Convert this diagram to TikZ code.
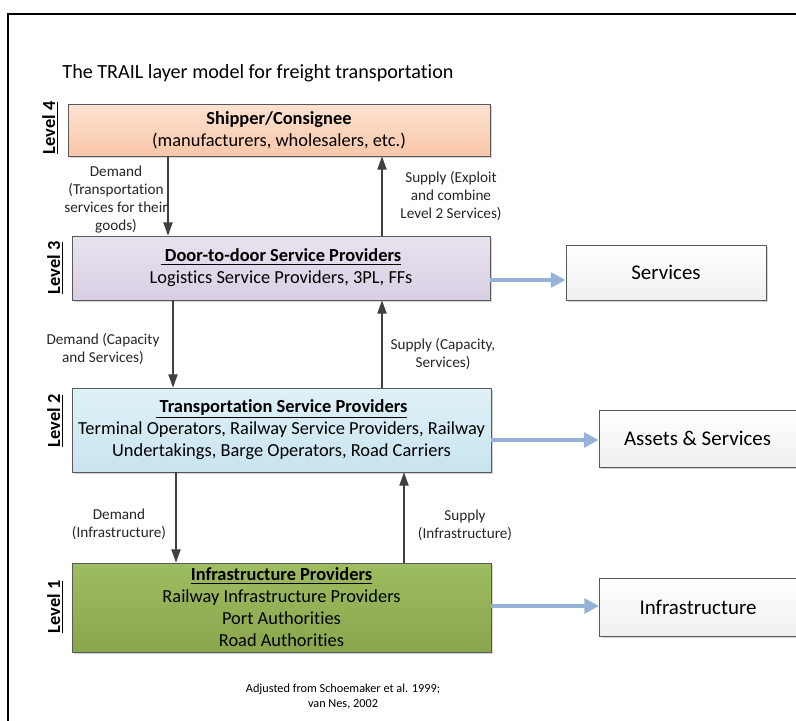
\documentclass[tikz,border=0pt]{standalone}
\usepackage{fontspec}
\setmainfont{Carlito}[Ligatures=NoCommon]
\usetikzlibrary{arrows.meta,shadows}
\definecolor{peachtop}{HTML}{FCE2D2}
\definecolor{peachbot}{HTML}{F9C7A8}
\definecolor{lilactop}{HTML}{E8E2EE}
\definecolor{lilacbot}{HTML}{D9CFE3}
\definecolor{icetop}{HTML}{E0F1F7}
\definecolor{icebot}{HTML}{C8E4EF}
\definecolor{olivetop}{HTML}{9EBC60}
\definecolor{olivebot}{HTML}{8AA64D}
\definecolor{boxgray}{HTML}{595959}
\definecolor{arrgray}{HTML}{404040}
\definecolor{feedblue}{HTML}{95B3D7}

\begin{document}
\begin{tikzpicture}[x=0.75pt,y=-0.75pt,
  layer/.style={draw=boxgray, line width=0.6pt, align=center, inner sep=0pt,
    font=\fontsize{13.8}{16.5}\selectfont,
    drop shadow={shadow xshift=1.5pt,shadow yshift=-1.5pt,opacity=0.35}},
  outbox/.style={layer, font=\fontsize{15.7}{18}\selectfont, top color=white, bottom color=black!6},
  lvlname/.style={rotate=90, inner sep=0pt, font=\fontsize{13.8}{16}\selectfont\bfseries},
  lab/.style={align=center, inner sep=0pt, text=black!85, font=\fontsize{11.4}{13.5}\selectfont},
  dem/.style={draw=arrgray, line width=0.8pt, -{Triangle[length=10pt,width=7pt]}},
  feed/.style={draw=feedblue, line width=3pt, -{Triangle[length=11pt,width=11pt]}}]
\useasboundingbox (0,0) rectangle (796,721);
\draw[line width=2pt] (8,721) -- (8,14) -- (796,14);
%
\node[font=\fontsize{15.1}{18}\selectfont] (title) at (258,73) {The TRAIL layer model for freight transportation};
%
% the four layers
\node[layer, minimum width=316.5pt, minimum height=39pt, top color=peachtop, bottom color=peachbot]
  (l4) at (279,130) {\textbf{Shipper/Consignee}\\(manufacturers, wholesalers, etc.)};
\node[layer, minimum width=313.5pt, minimum height=48pt, top color=lilactop, bottom color=lilacbot]
  (l3) at (281,268) {\textbf{\underline{ Door-to-door Service Providers}}\\Logistics Service Providers, 3PL, FFs};
\node[layer, minimum width=314.25pt, minimum height=63pt, top color=icetop, bottom color=icebot]
  (l2) at (281.5,430) {\textbf{\underline{ Transportation Service Providers}}\\Terminal Operators, Railway Service Providers, Railway\\Undertakings, Barge Operators, Road Carriers};
\node[layer, minimum width=314.25pt, minimum height=66.75pt, top color=olivetop, bottom color=olivebot]
  (l1) at (281.5,607.5) {\textbf{\underline{Infrastructure Providers}}\\Railway Infrastructure Providers\\Port Authorities\\Road Authorities};
%
\node[lvlname] (n4) at (50,128) {\underline{Level 4}};
\node[lvlname] (n3) at (55,268) {\underline{Level 3}};
\node[lvlname] (n2) at (55,421) {\underline{Level 2}};
\node[lvlname] (n1) at (55,607) {\underline{Level 1}};
%
% what each layer offers
\node[outbox, minimum width=150pt, minimum height=41.25pt] (srv) at (666,272.5) {Services};
\node[outbox, minimum width=147.75pt, minimum height=42.75pt] (ast) at (697.5,438.5) {Assets \& Services};
\node[outbox, minimum width=147.75pt, minimum height=43.5pt] (inf) at (698,607) {Infrastructure};
%
% demand goes down, supply goes up
\coordinate (d4) at (168,0);
\coordinate (s4) at (382,0);
\coordinate (d3) at (173,0);
\coordinate (s3) at (382,0);
\coordinate (d2) at (176,0);
\coordinate (s2) at (404,0);
\draw[dem] (l4.south -| d4) -- (l3.north -| d4);
\draw[dem] (l3.north -| s4) -- (l4.south -| s4);
\draw[dem] (l3.south -| d3) -- (l2.north -| d3);
\draw[dem] (l2.north -| s3) -- (l3.south -| s3);
\draw[dem] (l2.south -| d2) -- (l1.north -| d2);
\draw[dem] (l1.north -| s2) -- (l2.south -| s2);
%
\node[lab] (dl4) at (116,200) {Demand\\(Transportation\\services for their\\goods)};
\node[lab] (sl4) at (451,196) {Supply (Exploit\\and combine\\Level 2 Services)};
\node[lab] (dl3) at (103,349) {Demand (Capacity\\and Services)};
\node[lab] (sl3) at (443,354) {Supply (Capacity,\\Services)};
\node[lab] (dl2) at (119,524) {Demand\\(Infrastructure)};
\node[lab] (sl2) at (465,525) {Supply\\(Infrastructure)};
%
\coordinate (b3) at (0,280);
\coordinate (b2) at (0,440);
\coordinate (b1) at (0,606);
\draw[feed] (l3.east |- b3) -- (srv.west |- b3);
\draw[feed] (l2.east |- b2) -- (ast.west |- b2);
\draw[feed] (l1.east |- b1) -- (inf.west |- b1);
%
\node[lab, text=black, font=\fontsize{9.2}{11.25}\selectfont] (src) at (343,697) {Adjusted from Schoemaker et al. 1999;\\van Nes, 2002};
\end{tikzpicture}
\end{document}
